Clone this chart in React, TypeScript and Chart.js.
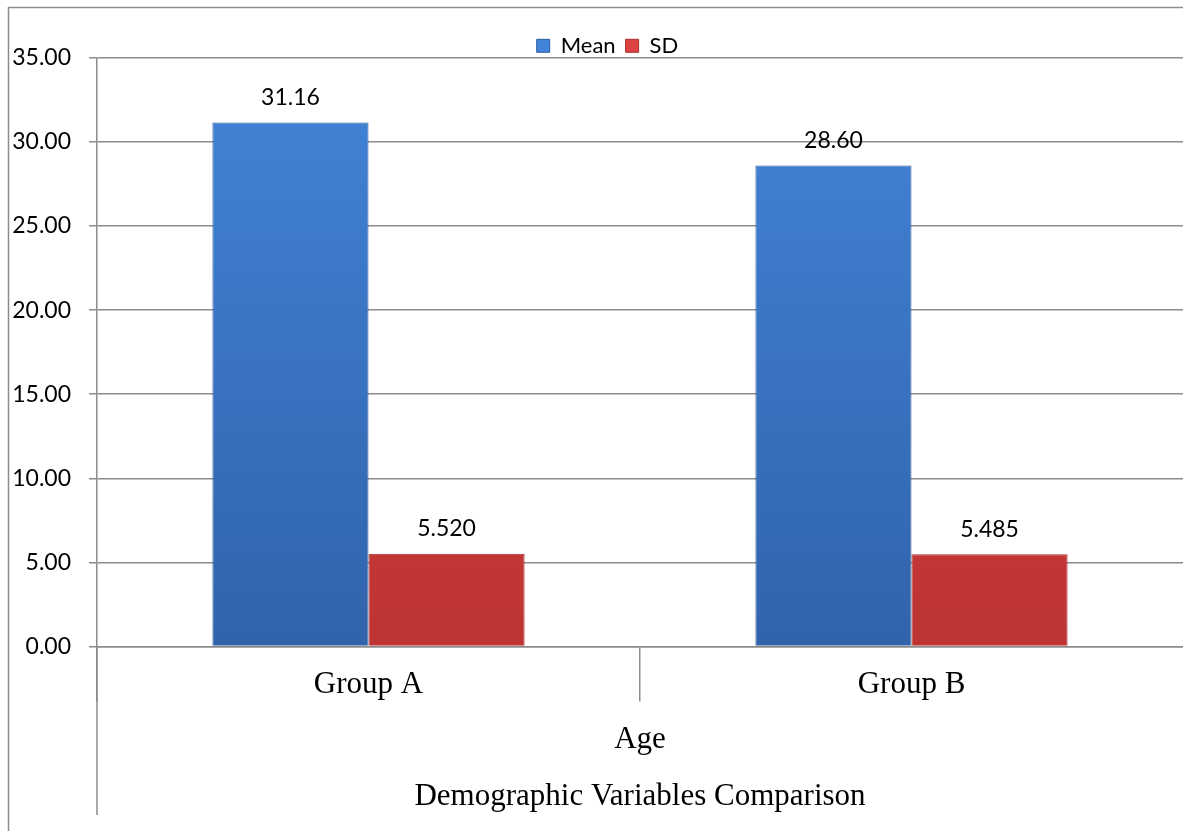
import { useEffect, useRef } from 'react';
import { Chart, registerables } from 'chart.js';

Chart.register(...registerables);

const categories = ['Group A', 'Group B'];
const seriesNames = ['Mean', 'SD'];
const meanValues = [31.16, 28.6];
const sdValues = [5.52, 5.485];
const valueDecimals = [2, 3];
const yMin = 0;
const yMax = 35;
const yStep = 5;
const axisTitle = 'Age';
const chartTitle = 'Demographic Variables Comparison';

const GRID = '#8c8c8c';
const SANS = 'Lato';
const SERIF = 'Liberation Serif';

function barFill(top: string, bottom: string) {
  return (ctx: any) => {
    const chart = ctx.chart;
    const area = chart.chartArea;
    if (!area) return top;
    const g = chart.ctx.createLinearGradient(0, area.top, 0, area.bottom);
    g.addColorStop(0, top);
    g.addColorStop(1, bottom);
    return g;
  };
}

const framePlugin = {
  id: 'frame',
  beforeDraw(chart: any) {
    const c = chart.ctx;
    c.save();
    c.fillStyle = '#ffffff';
    c.fillRect(0, 0, chart.width, chart.height);
    c.strokeStyle = GRID;
    c.lineWidth = 1.5;
    c.beginPath();
    c.moveTo(8, 7.5);
    c.lineTo(chart.width, 7.5);
    c.moveTo(8.5, 7);
    c.lineTo(8.5, chart.height);
    c.stroke();
    c.restore();
  },
  afterDraw(chart: any) {
    const c = chart.ctx;
    const a = chart.chartArea;
    c.save();
    c.strokeStyle = GRID;
    c.lineWidth = 1.5;
    c.beginPath();
    c.moveTo(a.left, a.bottom);
    c.lineTo(a.left, chart.height - 16);
    c.stroke();
    c.restore();
  },
};

const legendShiftPlugin = {
  id: 'legendShift',
  afterLayout(chart: any) {
    const lg = chart.legend;
    if (lg) {
      lg.top += 9;
      lg.bottom += 9;
      lg.left += 16;
      lg.right += 16;
    }
  },
};

const valueLabelPlugin = {
  id: 'valueLabels',
  afterDatasetsDraw(chart: any) {
    const c = chart.ctx;
    c.save();
    c.font = `23px ${SANS}`;
    c.fillStyle = '#000';
    c.textAlign = 'center';
    c.textBaseline = 'middle';
    chart.data.datasets.forEach((ds: any, di: number) => {
      const meta = chart.getDatasetMeta(di);
      meta.data.forEach((el: any, i: number) => {
        const v = ds.data[i];
        c.fillText(Number(v).toFixed(valueDecimals[di]), el.x, el.y - 25);
      });
    });
    c.restore();
  },
};

export default function App() {
  const ref = useRef<HTMLCanvasElement>(null);

  useEffect(() => {
    if (!ref.current) return;
    const chart = new Chart(ref.current, {
      type: 'bar',
      data: {
        labels: categories,
        datasets: [
          {
            label: seriesNames[0],
            data: meanValues,
            backgroundColor: barFill('#4284d8', '#3163ab'),
            borderColor: '#2d5a9c',
            borderWidth: 1,
          },
          {
            label: seriesNames[1],
            data: sdValues,
            backgroundColor: barFill('#dc4341', '#bd3432'),
            borderColor: '#a82d2b',
            borderWidth: 1,
          },
        ],
      },
      options: {
        animation: false,
        responsive: true,
        maintainAspectRatio: false,
        datasets: {
          bar: { categoryPercentage: 0.575, barPercentage: 1 },
        },
        layout: { padding: { top: 15.8, bottom: 10.4, left: 0, right: 0 } },
        plugins: {
          legend: {
            position: 'top',
            labels: {
              font: { family: SANS, size: 22 },
              color: '#000',
              boxWidth: 13,
              boxHeight: 13,
              padding: 10,
            },
          },
          title: {
            display: true,
            position: 'bottom',
            fullSize: false,
            text: chartTitle,
            color: '#000',
            font: { family: SERIF, size: 31, weight: 'normal' },
            padding: { top: 19.8, bottom: 5 },
          },
          tooltip: { enabled: false },
        },
        scales: {
          x: {
            afterFit: (s: any) => {
              s.height = 112.1;
            },
            grid: {
              offset: true,
              drawOnChartArea: false,
              drawTicks: true,
              tickLength: 55,
              color: (ctx: any) => (ctx.type === 'tick' ? GRID : 'rgba(0,0,0,0)'),
              lineWidth: 1.5,
            },
            border: { display: true, color: GRID, width: 1.5 },
            ticks: {
              color: '#000',
              font: { family: SERIF, size: 31 },
              padding: -35,
            },
            title: {
              display: true,
              text: axisTitle,
              color: '#000',
              font: { family: SERIF, size: 31 },
              padding: { top: 17.7, bottom: 0 },
            },
          },
          y: {
            min: yMin,
            max: yMax,
            afterFit: (s: any) => {
              s.width = 97;
            },
            grid: {
              color: GRID,
              lineWidth: 1.5,
              drawTicks: true,
              tickLength: 8,
            },
            border: { display: true, color: GRID, width: 1.5 },
            ticks: {
              stepSize: yStep,
              color: '#000',
              font: { family: SANS, size: 23 },
              padding: 18,
              callback: (v: any) => Number(v).toFixed(2),
            },
          },
        },
      },
      plugins: [framePlugin, legendShiftPlugin, valueLabelPlugin],
    });
    return () => chart.destroy();
  }, []);

  return (
    <div style={{ position: 'absolute', left: 0, top: 0, width: 1183, height: 831 }}>
      <canvas ref={ref} style={{ display: 'block' }} />
    </div>
  );
}
